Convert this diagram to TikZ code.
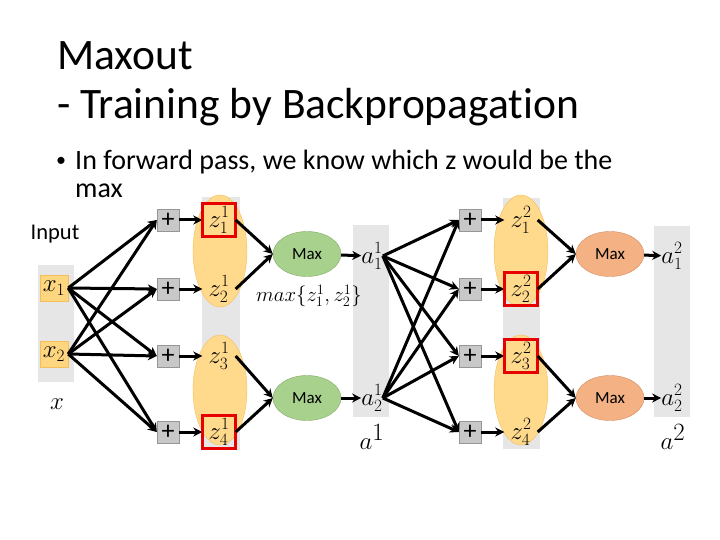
\documentclass[tikz,border=0pt]{standalone}
\usepackage{fontspec}
\setmainfont{Carlito}[Ligatures=NoCommon]
\usetikzlibrary{arrows.meta,positioning,shapes.geometric}
\definecolor{colbg}{RGB}{230,230,230}
\definecolor{zfill}{RGB}{255,217,140}
\definecolor{zline}{RGB}{244,190,90}
\definecolor{xfill}{RGB}{255,214,128}
\definecolor{greenfill}{RGB}{169,209,142}
\definecolor{greenline}{RGB}{130,170,100}
\definecolor{redfill}{RGB}{244,177,131}
\definecolor{redline}{RGB}{215,140,100}
\definecolor{plusfill}{RGB}{200,200,200}
\definecolor{plusline}{RGB}{150,150,150}
\definecolor{hilite}{RGB}{230,0,0}
\tikzset{
  wire/.style={-{Stealth[length=9pt,width=9pt]}, line width=3pt},
  plusbox/.style={draw=plusline, fill=plusfill, minimum size=22pt, inner sep=0pt,
    font=\fontsize{26}{26}\selectfont},
  zlab/.style={minimum size=33pt, inner sep=0pt, font=\fontsize{26}{26}\selectfont},
  pick/.style={draw=hilite, line width=3pt},
  xbox/.style={draw=zline, fill=xfill, minimum width=28pt, minimum height=26pt,
    inner sep=0pt, font=\fontsize{25}{25}\selectfont},
  maxnode/.style={ellipse, minimum width=68pt, minimum height=45pt, inner sep=0pt,
    font=\fontsize{17}{17}\selectfont},
  alab/.style={inner sep=0pt, font=\fontsize{27}{27}\selectfont},
  vlab/.style={inner sep=0pt, font=\fontsize{34}{34}\selectfont},
}
\newcommand{\grouppair}[1]{%
  \fill[zfill, draw=zline] (#1,251) ellipse [x radius=27, y radius=56];
  \fill[zfill, draw=zline] (#1,390) ellipse [x radius=27, y radius=55];
}

\begin{document}
\begin{tikzpicture}[x=1pt, y=-1pt]
  \useasboundingbox (0,0) rectangle (720,540);
  % title and bullet
  \node[anchor=base west, inner sep=0pt, font=\fontsize{43.5}{44}\selectfont] (title1) at (57,70) {Maxout};
  \node[anchor=base west, inner sep=0pt, font=\fontsize{43.5}{44}\selectfont] (title2) at (57,119) {- Training by Backpropagation};
  \node[anchor=base west, inner sep=0pt, font=\fontsize{20}{20}\selectfont] (dot) at (56,167) {\textbullet};
  \node[anchor=base west, inner sep=0pt, font=\fontsize{28}{28}\selectfont] (bul1) at (75,170) {In forward pass, we know which z would be the};
  \node[anchor=base west, inner sep=0pt, font=\fontsize{28}{28}\selectfont] (bul2) at (75,197) {max};
  \node[font=\fontsize{22.5}{22}\selectfont] (inp) at (55,234) {Input};

  % gray columns
  \fill[colbg] (38,265) rectangle (74,382);
  \fill[colbg] (202,197) rectangle (240,450);
  \fill[colbg] (353,225) rectangle (389,417);
  \fill[colbg] (503,198) rectangle (540,449);
  \fill[colbg] (654,226) rectangle (690,417);
  \grouppair{220}
  \grouppair{521}

  % input
  \node[xbox] (x1) at (54,288) {$x_1$};
  \node[xbox] (x2) at (54,354) {$x_2$};
  \node[vlab] (xv) at (57,404) {$x$};

  % layer 1 and layer 2
  \foreach \i/\y in {1/220, 2/289, 3/356, 4/432} {
    \node[plusbox] (p1\i) at (168,\y) {+};
    \node[zlab] (z1\i) at (219,\y) {$z^1_{\i}$};
    \node[plusbox] (p2\i) at (470,\y) {+};
    \node[zlab] (z2\i) at (521,\y) {$z^2_{\i}$};
    \draw[wire] (p1\i) -- (z1\i);
    \draw[wire] (p2\i) -- (z2\i);
    \draw[wire] (x1.east) -- (p1\i.west);
    \draw[wire] (x2.east) -- (p1\i.west);
  }
  \node[zlab, pick] at (z11) {};
  \node[zlab, pick] at (z14) {};
  \node[zlab, pick] at (z22) {};
  \node[zlab, pick] at (z23) {};

  \node[maxnode, draw=greenline, fill=greenfill] (m11) at (307,254) {Max};
  \node[maxnode, draw=greenline, fill=greenfill] (m12) at (307,398) {Max};
  \node[maxnode, draw=redline, fill=redfill] (m21) at (610,254) {Max};
  \node[maxnode, draw=redline, fill=redfill] (m22) at (610,398) {Max};
  \node[inner sep=0pt, font=\fontsize{21.5}{22}\selectfont] (mxf) at (309,296) {$max\{z^1_1,z^1_2\}$};

  \node[alab] (a11) at (372,256) {$a^1_1$};
  \node[alab] (a12) at (372,398) {$a^1_2$};
  \node[alab] (a21) at (672,256) {$a^2_1$};
  \node[alab] (a22) at (672,398) {$a^2_2$};
  \node[vlab] (av1) at (372,437) {$a^1$};
  \node[vlab] (av2) at (673,437) {$a^2$};

  \foreach \l in {1,2} {
    \draw[wire] (z\l1.east) -- (m\l1.west);
    \draw[wire] (z\l2.east) -- (m\l1.west);
    \draw[wire] (z\l3.east) -- (m\l2.west);
    \draw[wire] (z\l4.east) -- (m\l2.west);
    \draw[wire] (m\l1) -- (a\l1);
    \draw[wire] (m\l2) -- (a\l2);
  }
  \foreach \i in {1,...,4} {
    \draw[wire] (a11.east) -- (p2\i.west);
    \draw[wire] (a12.east) -- (p2\i.west);
  }
\end{tikzpicture}
\end{document}
